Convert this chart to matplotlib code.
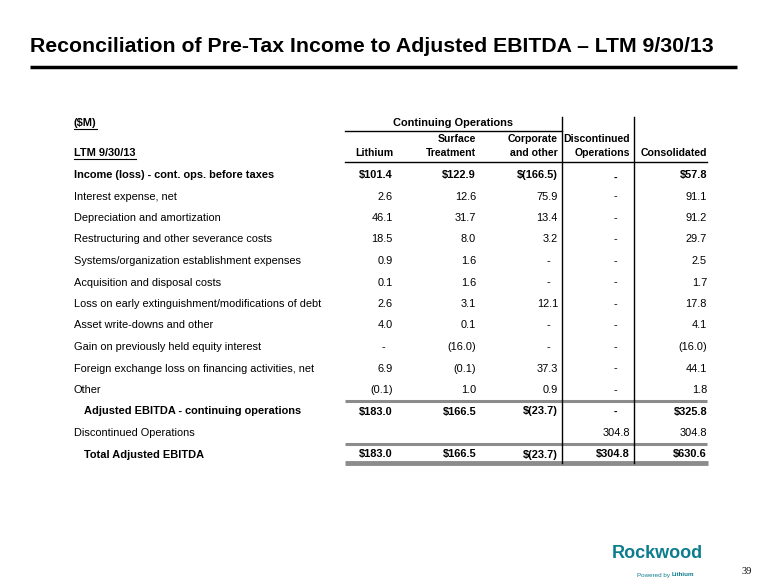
import matplotlib
matplotlib.use("Agg")
import matplotlib.pyplot as plt

# ---- data -------------------------------------------------------------
title = "Reconciliation of Pre-Tax Income to Adjusted EBITDA \u2013 LTM 9/30/13"

row_labels = [
    "Income (loss) - cont. ops. before taxes",
    "Interest expense, net",
    "Depreciation and amortization",
    "Restructuring and other severance costs",
    "Systems/organization establishment expenses",
    "Acquisition and disposal costs",
    "Loss on early extinguishment/modifications of debt",
    "Asset write-downs and other",
    "Gain on previously held equity interest",
    "Foreign exchange loss on financing activities, net",
    "Other",
    "Adjusted EBITDA - continuing operations",
    "Discontinued Operations",
    "Total Adjusted EBITDA",
]
bold_rows = [0, 11, 13]
indent_rows = [11, 13]

lithium = ["$101.4", "2.6", "46.1", "18.5", "0.9", "0.1", "2.6", "4.0", "-", "6.9", "(0.1)", "$183.0", "", "$183.0"]
surface = ["$122.9", "12.6", "31.7", "8.0", "1.6", "1.6", "3.1", "0.1", "(16.0)", "(0.1)", "1.0", "$166.5", "", "$166.5"]
corporate = ["$(166.5)", "75.9", "13.4", "3.2", "-", "-", "12.1", "-", "-", "37.3", "0.9", "$(23.7)", "", "$(23.7)"]
discontinued = ["-", "-", "-", "-", "-", "-", "-", "-", "-", "-", "-", "-", "304.8", "$304.8"]
consolidated = ["$57.8", "91.1", "91.2", "29.7", "2.5", "1.7", "17.8", "4.1", "(16.0)", "44.1", "1.8", "$325.8", "304.8", "$630.6"]

columns = [lithium, surface, corporate, discontinued, consolidated]
col_right = [393, 476, 558, 630, 707]
heads_top = ["", "Surface", "Corporate", "Discontinued", ""]
heads_bot = ["Lithium", "Treatment", "and other", "Operations", "Consolidated"]

# ---- figure -----------------------------------------------------------
plt.rcParams["font.family"] = ["Liberation Sans", "DejaVu Sans"]

fig = plt.figure(figsize=(7.8, 5.85), dpi=100)
ax = fig.add_axes([0, 0, 1, 1])
ax.set_xlim(0, 780)
ax.set_ylim(585, 0)
ax.axis("off")

ax.text(30, 46, title, fontsize=15.3, fontweight="bold", va="center", ha="left")
ax.plot([30, 737], [67, 67], color="black", lw=2.5, solid_capstyle="butt")

fs = 7.9
fs_head = 7.6


def underlined(x, y, s):
    t = ax.text(x, y, s, fontsize=fs, fontweight="bold", va="center", ha="left")
    fig.canvas.draw()
    bb = t.get_window_extent().transformed(ax.transData.inverted())
    ax.plot([bb.x0, bb.x1], [y + 6, y + 6], color="black", lw=0.8)


underlined(74, 123, "($M)")
underlined(74, 153, "LTM 9/30/13")

ax.text(453, 123, "Continuing Operations", fontsize=fs, fontweight="bold", va="center", ha="center")
ax.plot([345, 562], [131, 131], color="black", lw=1)

for r, t, b in zip(col_right, heads_top, heads_bot):
    ax.text(r, 139, t, fontsize=fs_head, fontweight="bold", va="center", ha="right")
    ax.text(r, 153, b, fontsize=fs_head, fontweight="bold", va="center", ha="right")
ax.plot([345, 707], [162, 162], color="black", lw=1)

row_y0, row_dy = 175, 21.5
for i, lab in enumerate(row_labels):
    y = row_y0 + i * row_dy
    x = 84 if i in indent_rows else 74
    w = "bold" if i in bold_rows else "normal"
    ax.text(x, y, lab, fontsize=fs, fontweight=w, va="center", ha="left")
    for j, col in enumerate(columns):
        v = col[i]
        if not v:
            continue
        if v == "-":
            xr = 615 if j == 3 else col_right[j] - 10
            ax.text(xr, y + (3 if i == 0 else 0), "-", fontsize=fs, fontweight=w, va="center", ha="center")
        else:
            ax.text(col_right[j], y, v, fontsize=fs, fontweight=w, va="center", ha="right")

# rules
y_adj = row_y0 + 11 * row_dy
y_tot = row_y0 + 13 * row_dy
for yl in (y_adj - 10.5, y_tot - 10.5):
    ax.plot([345, 707], [yl, yl], color="#8c8c8c", lw=2.2, solid_capstyle="butt")
ax.plot([345, 708], [y_tot + 8, y_tot + 8], color="#8c8c8c", lw=3.5, solid_capstyle="butt")
for xv in (562, 634):
    ax.plot([xv, xv], [117, y_tot + 8], color="black", lw=1)

# logo and page number
ax.text(612, 554, "Rockwood", fontsize=13, fontweight="bold", color="#0b7d8c", va="center", ha="left")
ax.text(672, 575, "Powered by ", fontsize=4.5, color="#0b7d8c", va="center", ha="right")
ax.text(672, 575, "Lithium", fontsize=4.5, fontweight="bold", color="#0b7d8c", va="center", ha="left")
ax.text(742, 571, "39", fontsize=7.5, family=["Liberation Serif", "DejaVu Serif"], va="center", ha="left")

fig.savefig("out.png", dpi=100)
